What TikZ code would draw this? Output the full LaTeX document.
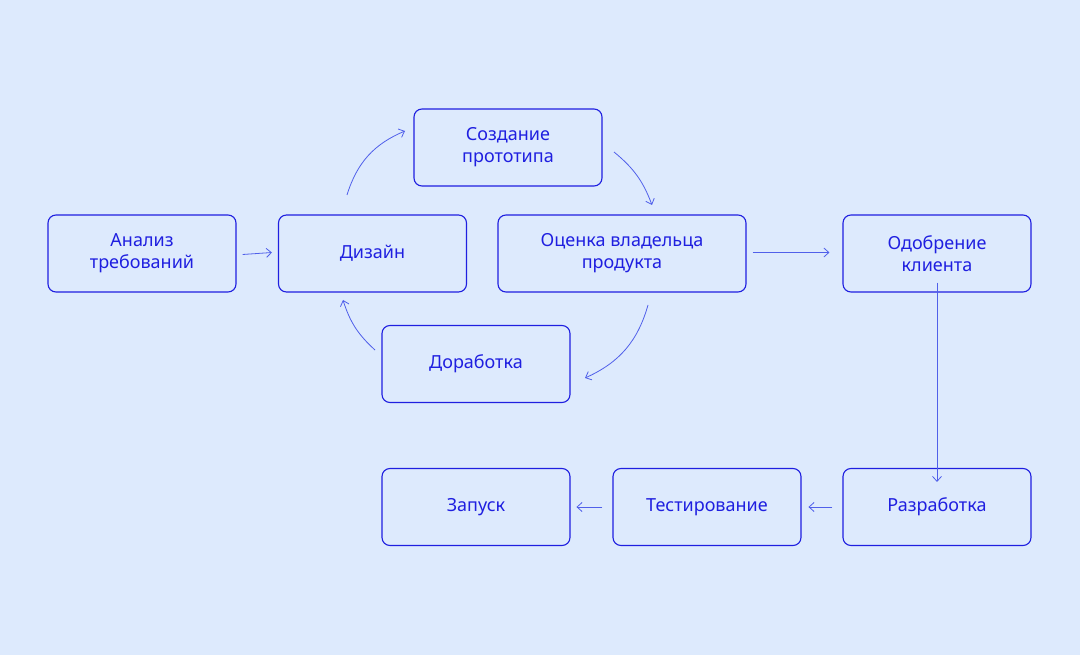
\documentclass[tikz,border=0pt]{standalone}
\usepackage{fontspec}
\setmainfont{Noto Sans}
\usetikzlibrary{arrows.meta}
\definecolor{bg}{HTML}{DDEAFD}
\definecolor{bl}{HTML}{1F1FE0}
\definecolor{ar}{HTML}{5060EA}
\begin{document}
\begin{tikzpicture}[x=1pt,y=-1pt,
 box/.style={draw=bl,line width=1.1pt,rounded corners=8pt,minimum width=188pt,minimum height=77pt,align=center,text=bl,font=\fontsize{18}{22}\selectfont},
 arr/.style={draw=ar,line width=0.8pt,-{Straight Barb[length=5pt,width=9pt]}}]
\fill[bg] (0,0) rectangle (1080,655);
\useasboundingbox (0,0) rectangle (1080,655);
\node[box] (a) at (142,253.5) {Анализ\\требований};
\node[box] (d) at (372.5,253.5) {Дизайн};
\node[box] (s) at (508,147.5) {Создание\\прототипа};
\node[box,minimum width=248pt] (o) at (622,253.5) {Оценка владельца\\продукта};
\node[box] (c) at (937,253.5) {Одобрение\\клиента};
\node[box] (r) at (476,364) {Доработка};
\node[box] (z) at (476,507) {Запуск};
\node[box] (t) at (707,507) {Тестирование};
\node[box] (p) at (937,507) {Разработка};
\coordinate (d1) at (347,195); \coordinate (s1) at (405,131);
\coordinate (s2) at (614,152); \coordinate (o1) at (652,205);
\coordinate (o2) at (648,305); \coordinate (r1) at (585,378);
\coordinate (r2) at (375,350); \coordinate (d2) at (343,300);
\draw[arr] (a.east)++(6,1) -- ([xshift=-6pt,yshift=1pt]d.west);
\draw[arr] ([xshift=6pt,yshift=1pt]o.east) -- ([xshift=-13pt,yshift=1pt]c.west);
\draw[arr] ([yshift=10pt]c.south) -- ([yshift=-14pt]p.north);
\draw[arr] ([xshift=-10pt]p.west) -- ([xshift=-34pt]p.west);
\draw[arr] ([xshift=-10pt]t.west) -- ([xshift=-36pt]t.west);
\draw[arr] (d1) to[bend left=25] (s1);
\draw[arr] (s2) to[bend left=15] (o1);
\draw[arr] (o2) to[bend left=25] (r1);
\draw[arr] (r2) to[bend left=15] (d2);
\end{tikzpicture}
\end{document}
